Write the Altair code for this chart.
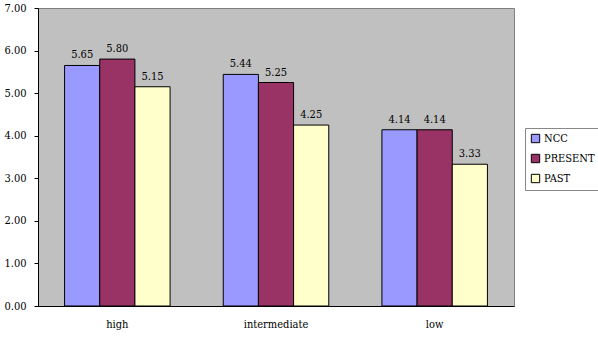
import altair as alt
import pandas as pd

categories = ["high", "intermediate", "low"]
series = ["NCC", "PRESENT", "PAST"]
ncc = [5.65, 5.44, 4.14]
present = [5.80, 5.25, 4.14]
past = [5.15, 4.25, 3.33]
colors = ["#9999FF", "#993366", "#FFFFCC"]

rows = []
for i, c in enumerate(categories):
    for s, vals in zip(series, [ncc, present, past]):
        rows.append({"level": c, "series": s, "value": vals[i]})
df = pd.DataFrame(rows)

FONT = "'DejaVu Serif Condensed', 'DejaVu Serif', 'Liberation Serif', serif"

x = alt.X("level:N", sort=categories, title=None,
          scale=alt.Scale(paddingInner=0.335, paddingOuter=0.1675),
          axis=alt.Axis(labelAngle=0, labelFont=FONT, labelFontSize=11, labelColor="#000",
                        domainColor="#000", ticks=False, labelPadding=12))
xo = alt.XOffset("series:N", sort=series, scale=alt.Scale(paddingInner=0, paddingOuter=0))
y = alt.Y("value:Q", title=None,
          scale=alt.Scale(domain=[0, 7], nice=False),
          axis=alt.Axis(values=[0, 1, 2, 3, 4, 5, 6, 7], format=".2f", grid=False,
                        labelFont=FONT, labelFontSize=11, labelColor="#000",
                        domainColor="#000", tickColor="#000", tickSize=4, labelPadding=8))

base = alt.Chart(df)
bars = base.mark_bar(stroke="#000", strokeWidth=1).encode(
    x=x, xOffset=xo, y=y,
    color=alt.Color("series:N", sort=series,
                    scale=alt.Scale(domain=series, range=colors),
                    legend=alt.Legend(title=None, orient="none", legendX=487, legendY=120,
                                      symbolType="square", symbolSize=70,
                                      symbolStrokeColor="#000", symbolStrokeWidth=1,
                                      labelFont=FONT, labelFontSize=11, labelColor="#000",
                                      fillColor="#FFFFFF", strokeColor="#888888",
                                      padding=5, rowPadding=7, labelOffset=3,
                                      symbolOpacity=1)),
)
labels = base.mark_text(dy=-10, font=FONT, fontSize=11, color="#000").encode(
    x=x, xOffset=xo, y=y, text=alt.Text("value:Q", format=".2f"))

chart = (bars + labels).properties(
    width=476, height=298,
    autosize=alt.AutoSizeParams(type="none"),
    padding={"left": 38, "top": 8, "right": 84, "bottom": 31},
    background="#FFFFFF",
).configure_view(fill="#C0C0C0", stroke="#808080", strokeWidth=1)

chart.save("out.html", embed_options={"renderer": "svg", "actions": False})
